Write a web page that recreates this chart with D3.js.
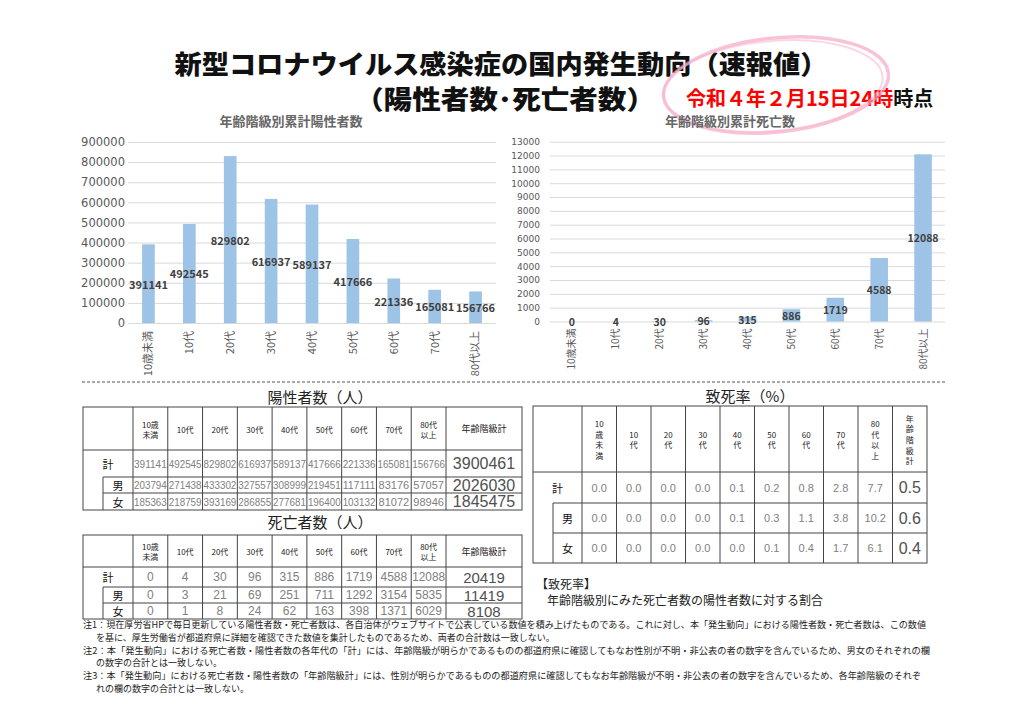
<!DOCTYPE html>
<html>
<head>
<meta charset="utf-8">
<script src="https://cdn.jsdelivr.net/npm/d3@7"></script>
<style>
  body { margin: 0; background: #fff; }
  svg { display: block; font-family: "Noto Sans CJK JP", sans-serif; }
</style>
</head>
<body>
<svg id="chart" width="1027" height="727"></svg>
<script>
const titleLines = ["新型コロナウイルス感染症の国内発生動向（速報値）", "（陽性者数･死亡者数）"];
const dateRed = "令和４年２月15日24時";
const dateBlack = "時点";

const ageGroups = ["10歳未満", "10代", "20代", "30代", "40代", "50代", "60代", "70代", "80代以上"];
const ageHeader = [["10歳", "未満"], ["10代"], ["20代"], ["30代"], ["40代"], ["50代"], ["60代"], ["70代"], ["80代", "以上"]];
const ageHeaderStacked = [["10", "歳", "未", "満"], ["10", "代"], ["20", "代"], ["30", "代"], ["40", "代"], ["50", "代"], ["60", "代"], ["70", "代"], ["80", "代", "以", "上"], ["年", "齢", "階", "級", "計"]];
const rowLabels = ["計", "男", "女"];
const totalLabel = "年齢階級計";

const posTotal  = [391141, 492545, 829802, 616937, 589137, 417666, 221336, 165081, 156766];
const posMale   = [203794, 271438, 433302, 327557, 308999, 219451, 117111, 83176, 57057];
const posFemale = [185363, 218759, 393169, 286855, 277681, 196400, 103132, 81072, 98946];
const posSum    = [3900461, 2026030, 1845475];

const deathTotal  = [0, 4, 30, 96, 315, 886, 1719, 4588, 12088];
const deathMale   = [0, 3, 21, 69, 251, 711, 1292, 3154, 5835];
const deathFemale = [0, 1, 8, 24, 62, 163, 398, 1371, 6029];
const deathSum    = [20419, 11419, 8108];

const cfrTotal  = ["0.0", "0.0", "0.0", "0.0", "0.1", "0.2", "0.8", "2.8", "7.7"];
const cfrMale   = ["0.0", "0.0", "0.0", "0.0", "0.1", "0.3", "1.1", "3.8", "10.2"];
const cfrFemale = ["0.0", "0.0", "0.0", "0.0", "0.0", "0.1", "0.4", "1.7", "6.1"];
const cfrSum    = ["0.5", "0.6", "0.4"];

const posTicks   = [0, 100000, 200000, 300000, 400000, 500000, 600000, 700000, 800000, 900000];
const deathTicks = [0, 1000, 2000, 3000, 4000, 5000, 6000, 7000, 8000, 9000, 10000, 11000, 12000, 13000];

const notes = [
  ["注1：現在厚労省HPで毎日更新している陽性者数・死亡者数は、各自治体がウェブサイトで公表している数値を積み上げたものである。これに対し、本「発生動向」における陽性者数・死亡者数は、この数値",
   "を基に、厚生労働省が都道府県に詳細を確認できた数値を集計したものであるため、両者の合計数は一致しない。"],
  ["注2：本「発生動向」における死亡者数・陽性者数の各年代の「計」には、年齢階級が明らかであるものの都道府県に確認してもなお性別が不明・非公表の者の数字を含んでいるため、男女のそれぞれの欄",
   "の数字の合計とは一致しない。"],
  ["注3：本「発生動向」における死亡者数・陽性者数の「年齢階級計」には、性別が明らかであるものの都道府県に確認してもなお年齢階級が不明・非公表の者の数字を含んでいるため、各年齢階級のそれぞ",
   "れの欄の数字の合計とは一致しない。"]
];

const svg = d3.select("#chart");

function fit(sel, max) {
  sel.each(function() {
    if (this.getComputedTextLength() > max) {
      d3.select(this).attr("textLength", max).attr("lengthAdjust", "spacingAndGlyphs");
    }
  });
}

// ---- headline ----
svg.append("text")
  .attr("x", 501).attr("y", 62)
  .attr("text-anchor", "middle").attr("dominant-baseline", "central")
  .attr("textLength", 653).attr("lengthAdjust", "spacingAndGlyphs")
  .style("font-size", "26px").style("font-weight", 900).style("fill", "#111")
  .text(titleLines[0]);

svg.append("text")
  .attr("x", 505).attr("y", 97)
  .attr("text-anchor", "middle").attr("dominant-baseline", "central")
  .attr("textLength", 300).attr("lengthAdjust", "spacingAndGlyphs")
  .style("font-size", "26px").style("font-weight", 900).style("fill", "#111")
  .text(titleLines[1]);

const dateText = svg.append("text")
  .attr("x", 686).attr("y", 97)
  .attr("dominant-baseline", "central")
  .style("font-size", "20px").style("font-weight", 700);
dateText.append("tspan").style("fill", "#ff0000").text(dateRed);
dateText.append("tspan").style("fill", "#111").text(dateBlack);

// pink pen loop round the date
svg.append("ellipse")
  .attr("cx", 776).attr("cy", 85).attr("rx", 113).attr("ry", 47)
  .attr("transform", "rotate(-6,776,85)")
  .style("fill", "none").style("stroke", "#f4a3c4").style("stroke-width", 3.5).style("opacity", 0.65);
svg.append("ellipse")
  .attr("cx", 773).attr("cy", 86).attr("rx", 110).attr("ry", 45)
  .attr("transform", "rotate(-5,773,86)")
  .style("fill", "none").style("stroke", "#f7b6d0").style("stroke-width", 2).style("opacity", 0.55);

// ---- bar charts ----
function barChart(o) {
  const g = svg.append("g");
  const x = d3.scaleBand().domain(ageGroups).range([o.x0, o.x1])
    .paddingInner(o.pad).paddingOuter(o.pad / 2);
  const y = d3.scaleLinear().domain([0, o.ticks[o.ticks.length - 1]]).range([o.y0, o.y1]);

  g.append("text")
    .attr("x", o.titleX).attr("y", 120)
    .attr("text-anchor", "middle").attr("dominant-baseline", "central")
    .style("font-size", "13px").style("font-weight", 700).style("fill", "#666")
    .text(o.title);

  const ya = g.append("g")
    .attr("transform", `translate(${o.x0},0)`)
    .call(d3.axisLeft(y).tickValues(o.ticks).tickFormat(d3.format("d"))
      .tickSize(-(o.x1 - o.x0)).tickPadding(o.tickPad));
  ya.select(".domain").remove();
  ya.selectAll("line").style("stroke", "#d9d9d9");
  ya.selectAll("text")
    .style("font-family", "DejaVu Sans").style("font-size", o.axisFont).style("fill", "#595959");

  g.selectAll("rect.bar")
    .data(o.values)
    .join("rect")
    .attr("class", "bar")
    .attr("x", (d, i) => x(ageGroups[i]))
    .attr("y", d => y(d))
    .attr("width", x.bandwidth())
    .attr("height", d => y(0) - y(d))
    .style("fill", "#9dc3e6");

  g.selectAll("text.val")
    .data(o.values)
    .join("text")
    .attr("class", "val")
    .attr("x", (d, i) => x(ageGroups[i]) + x.bandwidth() / 2)
    .attr("y", d => (y(d) + y(0)) / 2)
    .attr("text-anchor", "middle").attr("dominant-baseline", "central")
    .style("font-size", o.labelFont).style("font-weight", 700).style("fill", "#404040")
    .text(d => d);

  const xa = g.append("g")
    .attr("transform", `translate(0,${o.y0})`)
    .call(d3.axisBottom(x).tickSize(0));
  xa.select(".domain").remove();
  xa.selectAll("text")
    .attr("transform", "rotate(-90)")
    .attr("x", -o.xLabelGap).attr("y", 0).attr("dy", "0.35em")
    .attr("text-anchor", "end")
    .style("font-family", "Noto Sans CJK JP").style("font-size", o.xFont).style("fill", "#595959");
}

barChart({
  title: "年齢階級別累計陽性者数", titleX: 291,
  values: posTotal, ticks: posTicks,
  x0: 128, x1: 496, y0: 323, y1: 142, pad: 0.69, tickPad: 3,
  axisFont: "11.5px", labelFont: "11px", xFont: "11px", xLabelGap: 8
});

barChart({
  title: "年齢階級別累計死亡数", titleX: 730,
  values: deathTotal, ticks: deathTicks,
  x0: 550, x1: 945, y0: 321.5, y1: 141.7, pad: 0.6, tickPad: 10,
  axisFont: "9px", labelFont: "10.5px", xFont: "10px", xLabelGap: 7
});

// dashed separator
svg.append("line")
  .attr("x1", 82).attr("x2", 946).attr("y1", 382).attr("y2", 382)
  .style("stroke", "#555").style("stroke-dasharray", "3,2");

// ---- tables ----
const lineStyle = sel => sel.style("stroke", "#444").style("stroke-width", 1).style("fill", "none");

function table(o) {
  const g = svg.append("g");
  const cols = d3.scaleBand().domain(o.colKeys).range([o.c0, o.c1]);
  const [top, hb, r1, r2, bot] = o.rowsY;

  g.append("text")
    .attr("x", o.titleX).attr("y", o.titleY)
    .attr("text-anchor", "middle").attr("dominant-baseline", "central")
    .style("font-size", "15px").style("fill", "#222")
    .text(o.title);

  g.append("rect").attr("x", o.left).attr("y", top)
    .attr("width", o.right - o.left).attr("height", bot - top).call(lineStyle);
  g.append("line").attr("x1", o.left).attr("x2", o.right).attr("y1", hb).attr("y2", hb).call(lineStyle);
  g.selectAll("line.h").data([r1, r2]).join("line").attr("class", "h")
    .attr("x1", o.inner).attr("x2", o.right).attr("y1", d => d).attr("y2", d => d).call(lineStyle);
  g.append("line").attr("x1", o.inner).attr("x2", o.inner).attr("y1", r1).attr("y2", bot).call(lineStyle);
  g.selectAll("line.v").data(o.colKeys.concat(o.extraCol ? ["_end"] : [])).join("line").attr("class", "v")
    .attr("x1", d => d === "_end" ? o.c1 : cols(d)).attr("x2", d => d === "_end" ? o.c1 : cols(d))
    .attr("y1", top).attr("y2", bot).call(lineStyle);

  // header
  const hy = (top + hb) / 2;
  o.header.forEach((lines, i) => {
    const cx = cols(o.colKeys[i]) + cols.bandwidth() / 2;
    const t = g.append("text").attr("text-anchor", "middle").attr("dominant-baseline", "central")
      .style("font-size", o.headFont).style("fill", "#222");
    lines.forEach((s, k) => {
      t.append("tspan").attr("x", cx)
        .attr("y", hy + (k - (lines.length - 1) / 2) * o.headLine)
        .text(s);
    });
  });
  if (o.extraCol) {
    g.append("text").attr("x", (o.c1 + o.right) / 2).attr("y", hy)
      .attr("text-anchor", "middle").attr("dominant-baseline", "central")
      .style("font-size", "9px").style("fill", "#222").text(totalLabel);
  }

  // rows
  const bands = [[hb, r1], [r1, r2], [r2, bot]];
  o.rows.forEach((vals, r) => {
    const cy = (bands[r][0] + bands[r][1]) / 2;
    const lx = r === 0 ? (o.left + o.c0) / 2 : (o.inner + o.c0) / 2;
    g.append("text").attr("x", lx).attr("y", cy)
      .attr("text-anchor", "middle").attr("dominant-baseline", "central")
      .style("font-size", "11px").style("fill", "#111").text(rowLabels[r]);

    g.selectAll(null).data(vals).join("text")
      .attr("x", (d, i) => cols(ageGroups[i]) + cols.bandwidth() / 2)
      .attr("y", cy)
      .attr("text-anchor", "middle").attr("dominant-baseline", "central")
      .style("font-family", "Liberation Sans").style("font-size", o.valFont).style("fill", "#808080")
      .text(d => d)
      .call(fit, cols.bandwidth() - 2);

    const sx0 = o.extraCol ? o.c1 : cols(o.colKeys[o.colKeys.length - 1]);
    g.append("text").attr("x", (sx0 + o.right) / 2).attr("y", cy)
      .attr("text-anchor", "middle").attr("dominant-baseline", "central")
      .style("font-family", "Liberation Sans").style("font-size", o.sumFont).style("fill", "#505050")
      .text(o.sums[r])
      .call(fit, o.right - sx0 - 8);
  });
}

table({
  title: "陽性者数（人）", titleX: 320, titleY: 396,
  colKeys: ageGroups, extraCol: true, c0: 133, c1: 446,
  left: 83, inner: 103, right: 522, rowsY: [407, 450, 477, 493, 510],
  header: ageHeader, headFont: "8px", headLine: 10,
  rows: [posTotal, posMale, posFemale], sums: posSum,
  valFont: "11px", sumFont: "16px"
});

table({
  title: "死亡者数（人）", titleX: 320, titleY: 521,
  colKeys: ageGroups, extraCol: true, c0: 133, c1: 446,
  left: 83, inner: 103, right: 522, rowsY: [535, 567, 587, 603, 619],
  header: ageHeader, headFont: "8px", headLine: 10,
  rows: [deathTotal, deathMale, deathFemale], sums: deathSum,
  valFont: "12px", sumFont: "15px"
});

table({
  title: "致死率（%）", titleX: 750, titleY: 395,
  colKeys: ageGroups.concat([totalLabel]), extraCol: false, c0: 582, c1: 927,
  left: 533, inner: 553, right: 927, rowsY: [406, 472, 503, 533, 563],
  header: ageHeaderStacked, headFont: "8px", headLine: 10.7,
  rows: [cfrTotal, cfrMale, cfrFemale], sums: cfrSum,
  valFont: "11px", sumFont: "16px"
});

// definition note under the rate table
svg.append("text").attr("x", 536).attr("y", 583).attr("dominant-baseline", "central")
  .style("font-size", "12px").style("fill", "#222").text("【致死率】");
svg.append("text").attr("x", 547).attr("y", 599).attr("dominant-baseline", "central")
  .style("font-size", "12px").style("fill", "#222").text("年齢階級別にみた死亡者数の陽性者数に対する割合");

// ---- footnotes ----
const noteWidths = [843, 847, 838];
notes.forEach((pair, n) => {
  const y0 = 624.5 + n * 25.5;
  svg.append("text").attr("x", 83).attr("y", y0).attr("dominant-baseline", "central")
    .attr("textLength", noteWidths[n]).attr("lengthAdjust", "spacingAndGlyphs")
    .style("font-size", "9px").style("fill", "#222").text(pair[0]);
  svg.append("text").attr("x", 96).attr("y", y0 + 12.5).attr("dominant-baseline", "central")
    .style("font-size", "9px").style("fill", "#222").text(pair[1]);
});
</script>
</body>
</html>
